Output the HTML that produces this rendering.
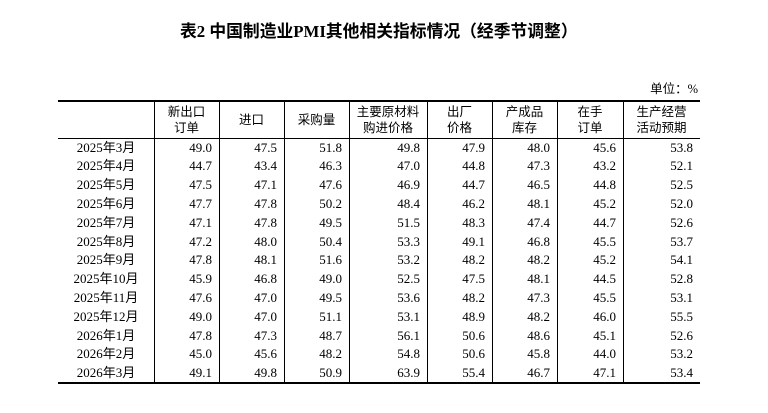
<!DOCTYPE html>
<html><head><meta charset="utf-8">
<style>
html,body{margin:0;padding:0;background:#fff;}
body{width:768px;height:413px;position:relative;overflow:hidden;color:#000;}
.title{position:absolute;left:180px;top:22px;font-family:"Liberation Serif","Noto Sans CJK SC",serif;font-weight:bold;font-size:16.8px;line-height:20px;white-space:nowrap;}
.unit{position:absolute;right:70px;top:81px;font-family:"Liberation Serif","Noto Sans CJK SC",sans-serif;font-size:12.5px;line-height:16px;white-space:nowrap;}
.hl{position:absolute;left:58px;width:642px;background:#000;}
.vl{position:absolute;top:101px;height:282px;width:1px;background:#000;}
.hdr{position:absolute;top:102px;height:36px;left:58px;width:642px;display:flex;font-family:"Liberation Sans","Noto Sans CJK SC",sans-serif;font-size:12.5px;line-height:16px;}
.hdr div{display:flex;align-items:center;justify-content:center;text-align:center;}
.row{position:absolute;left:58px;width:642px;height:18.8px;display:flex;font-family:"Liberation Serif","Noto Sans CJK SC",serif;font-size:13px;line-height:18.8px;}
.row div{text-align:right;padding-right:7px;box-sizing:border-box;white-space:nowrap;}
.row div:first-child{text-align:center;padding-right:0;}
.c0{width:96px}.c1{width:65px}.c2{width:65px}.c3{width:65px}.c4{width:78px}.c5{width:65px}.c6{width:65px}.c7{width:66px}.c8{width:77px}
</style></head><body>
<div class="title">表2 中国制造业PMI其他相关指标情况（经季节调整）</div>
<div class="unit">单位：%</div>

<div class="hl" style="top:100px;height:2px"></div>
<div class="hl" style="top:138px;height:1px"></div>
<div class="hl" style="top:382px;height:2px"></div>

<div class="vl" style="left:154px"></div>
<div class="vl" style="left:219px"></div>
<div class="vl" style="left:284px"></div>
<div class="vl" style="left:349px"></div>
<div class="vl" style="left:427px"></div>
<div class="vl" style="left:492px"></div>
<div class="vl" style="left:557px"></div>
<div class="vl" style="left:623px"></div>

<div class="hdr">
<div class="c0"></div>
<div class="c1">新出口<br>订单</div>
<div class="c2">进口</div>
<div class="c3">采购量</div>
<div class="c4">主要原材料<br>购进价格</div>
<div class="c5">出厂<br>价格</div>
<div class="c6">产成品<br>库存</div>
<div class="c7">在手<br>订单</div>
<div class="c8">生产经营<br>活动预期</div>
</div>

<div class="row" style="top:138.5px"><div class="c0">2025年3月</div><div class="c1">49.0</div><div class="c2">47.5</div><div class="c3">51.8</div><div class="c4">49.8</div><div class="c5">47.9</div><div class="c6">48.0</div><div class="c7">45.6</div><div class="c8">53.8</div></div>
<div class="row" style="top:157.3px"><div class="c0">2025年4月</div><div class="c1">44.7</div><div class="c2">43.4</div><div class="c3">46.3</div><div class="c4">47.0</div><div class="c5">44.8</div><div class="c6">47.3</div><div class="c7">43.2</div><div class="c8">52.1</div></div>
<div class="row" style="top:176.1px"><div class="c0">2025年5月</div><div class="c1">47.5</div><div class="c2">47.1</div><div class="c3">47.6</div><div class="c4">46.9</div><div class="c5">44.7</div><div class="c6">46.5</div><div class="c7">44.8</div><div class="c8">52.5</div></div>
<div class="row" style="top:194.9px"><div class="c0">2025年6月</div><div class="c1">47.7</div><div class="c2">47.8</div><div class="c3">50.2</div><div class="c4">48.4</div><div class="c5">46.2</div><div class="c6">48.1</div><div class="c7">45.2</div><div class="c8">52.0</div></div>
<div class="row" style="top:213.7px"><div class="c0">2025年7月</div><div class="c1">47.1</div><div class="c2">47.8</div><div class="c3">49.5</div><div class="c4">51.5</div><div class="c5">48.3</div><div class="c6">47.4</div><div class="c7">44.7</div><div class="c8">52.6</div></div>
<div class="row" style="top:232.5px"><div class="c0">2025年8月</div><div class="c1">47.2</div><div class="c2">48.0</div><div class="c3">50.4</div><div class="c4">53.3</div><div class="c5">49.1</div><div class="c6">46.8</div><div class="c7">45.5</div><div class="c8">53.7</div></div>
<div class="row" style="top:251.3px"><div class="c0">2025年9月</div><div class="c1">47.8</div><div class="c2">48.1</div><div class="c3">51.6</div><div class="c4">53.2</div><div class="c5">48.2</div><div class="c6">48.2</div><div class="c7">45.2</div><div class="c8">54.1</div></div>
<div class="row" style="top:270.1px"><div class="c0">2025年10月</div><div class="c1">45.9</div><div class="c2">46.8</div><div class="c3">49.0</div><div class="c4">52.5</div><div class="c5">47.5</div><div class="c6">48.1</div><div class="c7">44.5</div><div class="c8">52.8</div></div>
<div class="row" style="top:288.9px"><div class="c0">2025年11月</div><div class="c1">47.6</div><div class="c2">47.0</div><div class="c3">49.5</div><div class="c4">53.6</div><div class="c5">48.2</div><div class="c6">47.3</div><div class="c7">45.5</div><div class="c8">53.1</div></div>
<div class="row" style="top:307.7px"><div class="c0">2025年12月</div><div class="c1">49.0</div><div class="c2">47.0</div><div class="c3">51.1</div><div class="c4">53.1</div><div class="c5">48.9</div><div class="c6">48.2</div><div class="c7">46.0</div><div class="c8">55.5</div></div>
<div class="row" style="top:326.5px"><div class="c0">2026年1月</div><div class="c1">47.8</div><div class="c2">47.3</div><div class="c3">48.7</div><div class="c4">56.1</div><div class="c5">50.6</div><div class="c6">48.6</div><div class="c7">45.1</div><div class="c8">52.6</div></div>
<div class="row" style="top:345.3px"><div class="c0">2026年2月</div><div class="c1">45.0</div><div class="c2">45.6</div><div class="c3">48.2</div><div class="c4">54.8</div><div class="c5">50.6</div><div class="c6">45.8</div><div class="c7">44.0</div><div class="c8">53.2</div></div>
<div class="row" style="top:364.1px"><div class="c0">2026年3月</div><div class="c1">49.1</div><div class="c2">49.8</div><div class="c3">50.9</div><div class="c4">63.9</div><div class="c5">55.4</div><div class="c6">46.7</div><div class="c7">47.1</div><div class="c8">53.4</div></div>
</body></html>
